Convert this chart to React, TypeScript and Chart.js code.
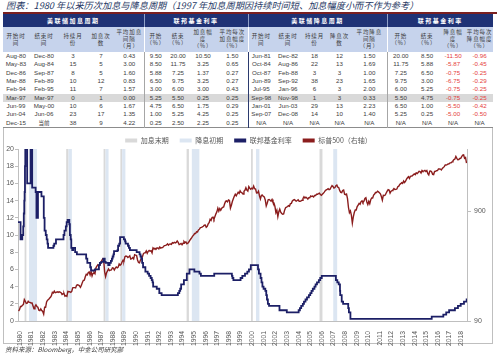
import React, { useEffect, useRef } from 'react';
import { Chart, registerables } from 'chart.js';
Chart.register(...registerables);

// ---------------- text ----------------
const TITLE = '图表：1980 年以来历次加息与降息周期（1997 年加息周期因持续时间短、加息幅度小而不作为参考）';
const SOURCE = '资料来源：Bloomberg，中金公司研究部';

// ---------------- table ----------------
const groupHeaders = ['美联储加息周期', '联邦基金利率', '美联储降息周期', '联邦基金利率'];
const groupSpans = [5, 4, 5, 4];
const subHeaders = [
  ['开始时', '间'], ['结束时', '间'], ['持续月', '份'], ['加息次', '数'], ['平均加息', '间隔', '（月）'],
  ['开始', '（%）'], ['结束', '（%）'], ['加息幅', '度', '（%）'], ['平均每次', '加息幅度', '（%）'],
  ['开始时', '间'], ['结束时', '间'], ['持续月', '份'], ['降息次', '数'], ['平均降息', '间隔', '（月）'],
  ['开始', '（%）'], ['结束', '（%）'], ['降息幅', '度', '（%）'], ['平均每次', '降息幅度', '（%）'],
];

const hikeStart = ['Aug-80', 'May-83', 'Dec-86', 'Mar-88', 'Feb-94', 'Mar-97', 'Jun-99', 'Jun-04', 'Dec-15'];
const hikeEnd = ['Dec-80', 'Aug-84', 'Sep-87', 'Feb-89', 'Feb-95', 'Mar-97', 'May-00', 'Jun-06', '当前'];
const hikeMonths = ['3', '15', '8', '10', '11', '0', '10', '23', '38'];
const hikeCount = ['7', '5', '5', '12', '7', '1', '6', '17', '9'];
const hikeInterval = ['0.43', '3.00', '1.60', '0.83', '1.57', '0.00', '1.67', '1.35', '4.22'];
const hikeRateStart = ['9.50', '8.50', '5.88', '6.50', '3.00', '5.25', '4.75', '1.00', '0.25'];
const hikeRateEnd = ['20.00', '11.75', '7.25', '9.75', '6.00', '5.50', '6.50', '5.25', '2.50'];
const hikeRange = ['10.50', '3.25', '1.37', '3.25', '3.00', '0.25', '1.75', '4.25', '2.25'];
const hikeAvg = ['1.50', '0.65', '0.27', '0.27', '0.43', '0.25', '0.29', '0.25', '0.25'];

const cutStart = ['Jun-81', 'Oct-84', 'Oct-87', 'Jun-89', 'Jul-95', 'Sep-98', 'Jan-01', 'Sep-07', 'N/A'];
const cutEnd = ['Dec-82', 'Aug-86', 'Feb-88', 'Sep-92', 'Jan-96', 'Nov-98', 'Jun-03', 'Dec-08', 'N/A'];
const cutMonths = ['18', '22', '3', '38', '6', '1', '29', '14', 'N/A'];
const cutCount = ['12', '13', '3', '23', '3', '3', '13', '10', 'N/A'];
const cutInterval = ['1.50', '1.69', '1.00', '1.65', '2.00', '0.33', '2.23', '1.40', 'N/A'];
const cutRateStart = ['20.00', '11.75', '7.25', '9.75', '6.00', '5.50', '6.50', '5.25', 'N/A'];
const cutRateEnd = ['8.50', '5.88', '6.50', '3.00', '5.25', '4.75', '1.00', '0.25', 'N/A'];
const cutRange = ['-11.50', '-5.87', '-0.75', '-6.75', '-0.75', '-0.75', '-5.50', '-5.00', 'N/A'];
const cutAvg = ['-0.96', '-0.45', '-0.25', '-0.29', '-0.25', '-0.25', '-0.42', '-0.50', 'N/A'];

const tableColumns = [
  hikeStart, hikeEnd, hikeMonths, hikeCount, hikeInterval,
  hikeRateStart, hikeRateEnd, hikeRange, hikeAvg,
  cutStart, cutEnd, cutMonths, cutCount, cutInterval,
  cutRateStart, cutRateEnd, cutRange, cutAvg,
];
const highlightRow = 5;

// ---------------- chart data ----------------
// Fed funds target rate: change dates (decimal years) and level after change (%)
const fedChangeAt = [
  1980.33, 1980.55, 1980.70, 1980.78, 1980.83, 1980.87, 1980.90, 1980.93, 1980.96,
  1981.12, 1981.42, 1981.55, 1981.85, 1981.92, 1982.05, 1982.35, 1982.55, 1982.62, 1982.72, 1982.80, 1982.87, 1982.92,
  1983.38, 1983.45, 1983.60, 1984.25, 1984.33, 1984.45, 1984.52, 1984.60,
  1984.75, 1984.80, 1984.87, 1984.92, 1985.00, 1985.08, 1985.25, 1985.40, 1986.20, 1986.30, 1986.55, 1986.62,
  1986.95, 1987.30, 1987.38, 1987.50, 1987.68,
  1987.80, 1987.88, 1988.10,
  1988.22, 1988.33, 1988.42, 1988.48, 1988.55, 1988.60, 1988.90, 1988.95, 1989.05, 1989.12,
  1989.45, 1989.55, 1989.60, 1989.80, 1989.88, 1989.97, 1990.55, 1990.80, 1990.88, 1990.95,
  1991.02, 1991.10, 1991.30, 1991.50, 1991.62, 1991.75, 1991.85, 1991.92, 1991.97, 1992.28, 1992.50, 1992.70,
  1994.10, 1994.22, 1994.30, 1994.38, 1994.62, 1994.87, 1995.10,
  1995.52, 1995.96, 1996.08, 1997.23,
  1998.75, 1998.80, 1998.88,
  1999.50, 1999.65, 1999.88, 2000.08, 2000.22, 2000.38,
  2001.00, 2001.08, 2001.22, 2001.30, 2001.38, 2001.48, 2001.63, 2001.71, 2001.77, 2001.85, 2001.95, 2002.85, 2003.48,
  2004.50, 2004.61, 2004.72, 2004.86, 2004.96, 2005.09, 2005.22, 2005.38, 2005.50, 2005.61, 2005.72, 2005.86, 2005.96,
  2006.08, 2006.24, 2006.36, 2006.49,
  2007.71, 2007.83, 2007.95, 2008.06, 2008.08, 2008.21, 2008.33, 2008.77, 2008.83, 2008.96,
  2015.96, 2016.96, 2017.21, 2017.46, 2017.96, 2018.22, 2018.46, 2018.74, 2018.97, 2019.0,
];
const fedRate = [
  11.5, 9.5, 10, 11, 12.5, 14, 15, 18, 20,
  16, 20, 15.5, 15, 12, 15, 14.5, 12, 10.5, 10, 9.5, 9, 8.5,
  8.75, 9, 9.5, 10, 10.5, 11, 11.5, 11.75,
  11.25, 10, 9.5, 8.5, 8.25, 8.5, 8, 7.75, 7.25, 6.75, 6.25, 5.875,
  6, 6.5, 6.75, 6.875, 7.25,
  6.875, 6.75, 6.5,
  6.75, 7, 7.25, 7.5, 7.75, 8.125, 8.25, 8.75, 9, 9.75,
  9.5, 9.25, 9, 8.75, 8.5, 8.25, 8, 7.75, 7.5, 7.25,
  6.75, 6.25, 5.75, 5.5, 5.25, 5, 4.75, 4.5, 4, 3.75, 3.25, 3,
  3.25, 3.5, 3.75, 4.25, 4.75, 5.5, 6,
  5.75, 5.5, 5.25, 5.5,
  5.25, 5, 4.75,
  5, 5.25, 5.5, 5.75, 6, 6.5,
  6, 5.5, 5, 4.5, 4, 3.75, 3.5, 3, 2.5, 2, 1.75, 1.25, 1,
  1.25, 1.5, 1.75, 2, 2.25, 2.5, 2.75, 3, 3.25, 3.5, 3.75, 4, 4.25,
  4.5, 4.75, 5, 5.25,
  4.75, 4.5, 4.25, 3.5, 3, 2.25, 2, 1.5, 1, 0.25,
  0.5, 0.75, 1, 1.25, 1.5, 1.75, 2, 2.25, 2.5, 2.5,
];

// S&P 500 monthly level, May 1980 .. Dec 2018
const SPX_START = 1980 + 4 / 12;
const spxMonthly = [
  111, 114, 122, 122, 125, 127, 141, 136,
  130, 131, 136, 133, 133, 131, 131, 123, 116, 122, 126, 122,
  120, 113, 112, 116, 112, 110, 104, 120, 120, 134, 139, 141,
  145, 148, 153, 164, 162, 168, 163, 164, 166, 164, 166, 165,
  163, 157, 159, 160, 151, 153, 151, 167, 166, 166, 164, 167,
  180, 181, 181, 180, 190, 192, 191, 188, 182, 190, 202, 211,
  212, 227, 239, 236, 247, 251, 236, 253, 231, 244, 249, 242,
  274, 284, 292, 288, 290, 304, 319, 330, 322, 252, 228, 247,
  257, 268, 259, 261, 262, 274, 272, 262, 272, 279, 274, 278,
  297, 289, 295, 310, 321, 318, 346, 351, 349, 340, 346, 353,
  329, 332, 340, 331, 361, 358, 356, 323, 306, 304, 322, 330,
  344, 367, 375, 375, 390, 371, 387, 395, 388, 392, 375, 417,
  409, 413, 404, 415, 415, 408, 424, 414, 418, 419, 431, 436,
  439, 443, 452, 440, 450, 451, 448, 464, 459, 468, 462, 466,
  481, 467, 446, 451, 457, 444, 458, 475, 463, 472, 454, 459,
  470, 487, 501, 515, 533, 545, 562, 562, 584, 582, 605, 616,
  636, 640, 646, 654, 669, 671, 640, 652, 687, 705, 757, 741,
  786, 791, 757, 801, 848, 885, 954, 899, 947, 915, 955, 970,
  980, 1049, 1102, 1112, 1091, 1134, 1121, 957, 1017, 1099, 1164, 1229,
  1280, 1238, 1286, 1335, 1302, 1373, 1329, 1320, 1283, 1363, 1389, 1469,
  1394, 1366, 1499, 1452, 1421, 1455, 1431, 1518, 1437, 1429, 1315, 1320,
  1366, 1240, 1160, 1249, 1256, 1224, 1211, 1134, 1000, 1060, 1139, 1148,
  1130, 1107, 1147, 1077, 1067, 990, 870, 916, 800, 886, 936, 880,
  856, 841, 848, 917, 964, 975, 990, 1008, 996, 1051, 1058, 1112,
  1131, 1145, 1126, 1107, 1121, 1141, 1102, 1104, 1115, 1130, 1174, 1212,
  1181, 1204, 1181, 1157, 1192, 1191, 1234, 1220, 1229, 1207, 1249, 1248,
  1280, 1281, 1295, 1311, 1270, 1250, 1277, 1304, 1336, 1378, 1401, 1418,
  1438, 1407, 1421, 1482, 1531, 1503, 1455, 1474, 1527, 1549, 1481, 1468,
  1379, 1331, 1323, 1386, 1400, 1280, 1267, 1283, 1165, 969, 870, 903,
  826, 700, 798, 873, 919, 919, 987, 1021, 1057, 1036, 1096, 1115,
  1074, 1104, 1169, 1187, 1089, 1031, 1102, 1049, 1141, 1183, 1181, 1258,
  1286, 1327, 1326, 1364, 1345, 1321, 1292, 1219, 1131, 1253, 1247, 1258,
  1312, 1366, 1408, 1398, 1310, 1362, 1379, 1407, 1441, 1412, 1416, 1426,
  1498, 1515, 1569, 1598, 1631, 1606, 1686, 1633, 1682, 1757, 1806, 1848,
  1783, 1859, 1872, 1884, 1924, 1960, 1931, 2003, 1972, 2018, 2068, 2059,
  1995, 2105, 2068, 2086, 2107, 2063, 2104, 1972, 1920, 2079, 2080, 2044,
  1940, 1932, 2060, 2065, 2097, 2099, 2174, 2171, 2168, 2126, 2199, 2239,
  2279, 2364, 2363, 2384, 2412, 2423, 2470, 2472, 2519, 2575, 2648, 2674,
  2824, 2714, 2641, 2648, 2705, 2718, 2816, 2902, 2914, 2712, 2760, 2460,
];

// shaded periods (decimal years)
const lateHikeBands = [
  [1980.90, 1981.05], [1984.48, 1984.68], [1987.70, 1987.87], [1989.15, 1989.30],
  [1994.85, 1995.05], [2000.40, 2000.55], [2006.30, 2006.55],
];
const earlyCutBands = [
  [1981.28, 1981.97], [1984.68, 1984.97], [1987.87, 1988.13], [1989.30, 1989.58],
  [1995.30, 1995.95], [2000.83, 2001.12], [2007.48, 2007.82],
];

const yearTicks = [
  1980, 1981, 1982, 1983, 1984, 1985, 1986, 1987, 1988, 1989, 1990, 1991, 1992,
  1993, 1994, 1995, 1996, 1997, 1998, 1999, 2000, 2001, 2002, 2003, 2004, 2005,
  2006, 2007, 2008, 2009, 2010, 2011, 2012, 2013, 2014, 2015, 2016, 2017, 2018,
];
const rightTicks = [90, 900];
const legendLabels = ['加息末期', '降息初期', '联邦基金利率', '标普500（右轴）'];

// ---------------- styles ----------------
const NAVY = '#1F3275';
const FED_COLOR = '#1C1F66';
const SPX_COLOR = '#8B1D1D';
const GRAY_BAND = '#D9D9D9';
const BLUE_BAND = '#DCE6F2';
const legendColors = [GRAY_BAND, BLUE_BAND, FED_COLOR, SPX_COLOR];
const colWidths = [26, 30, 28, 28, 29, 23, 22, 28, 31, 26, 28, 25, 25, 35, 27, 26, 26, 27];
const groupStartCols = [5, 9, 14];
const CJK = '"Noto Sans CJK SC", sans-serif';
const NUM = '"Liberation Sans Narrow", "Liberation Sans", Arial, sans-serif';

const CANVAS_LEFT = 4;
const CANVAS_TOP = 126;
const CANVAS_W = 489;
const CANVAS_H = 228;
const LEGEND_H = 23;
const X_AXIS_H = 33;
const Y_AXIS_W = 14;
const Y2_AXIS_W = 26;

const bandsPlugin = {
  id: 'bands',
  beforeDatasetsDraw(chart: any) {
    const { ctx, chartArea, scales } = chart;
    const x = scales.x;
    ctx.save();
    const draw = (bands: number[][], color: string) => {
      ctx.fillStyle = color;
      bands.forEach(([a, b]) => {
        const x1 = x.getPixelForValue(a);
        const x2 = x.getPixelForValue(b);
        ctx.fillRect(x1, chartArea.top, x2 - x1, chartArea.bottom - chartArea.top);
      });
    };
    draw(lateHikeBands, GRAY_BAND);
    draw(earlyCutBands, BLUE_BAND);
    ctx.restore();
  },
};

const legendHeightPlugin = {
  id: 'legendHeight',
  beforeLayout(chart: any) {
    const lg = chart.legend;
    if (lg && !lg.__patched) {
      const orig = lg.fit.bind(lg);
      lg.fit = () => {
        orig();
        lg.height = LEGEND_H;
      };
      lg.__patched = true;
    }
  },
};

export default function App() {
  const ref = useRef<HTMLCanvasElement>(null);

  useEffect(() => {
    if (!ref.current) return;
    const fedData = fedChangeAt.map((x, i) => ({ x, y: fedRate[i] }));
    const spxData = spxMonthly.map((v, i) => ({ x: SPX_START + (i + 0.5) / 12, y: v }));
    const tickFont = { family: '"Liberation Sans", Arial, sans-serif', size: 7 };
    const chart = new Chart(ref.current, {
      type: 'line',
      data: {
        datasets: [
          {
            label: '联邦基金利率',
            data: fedData,
            yAxisID: 'y',
            borderColor: FED_COLOR,
            backgroundColor: FED_COLOR,
            borderWidth: 1.8,
            stepped: true,
            pointRadius: 0,
            fill: false,
          },
          {
            label: '标普500（右轴）',
            data: spxData,
            yAxisID: 'y2',
            borderColor: SPX_COLOR,
            backgroundColor: SPX_COLOR,
            borderWidth: 1.4,
            pointRadius: 0,
            tension: 0,
            fill: false,
          },
        ],
      },
      options: {
        responsive: false,
        animation: false,
        layout: { padding: 0 },
        plugins: {
          tooltip: { enabled: false },
          legend: {
            position: 'top',
            align: 'center',
            onClick: () => {},
            labels: {
              boxWidth: 12,
              boxHeight: 4,
              padding: 11,
              color: '#595959',
              font: { family: CJK, size: 7 },
              generateLabels: () =>
                legendLabels.map((text, i) => ({
                  text,
                  fillStyle: legendColors[i],
                  strokeStyle: legendColors[i],
                  lineWidth: 0,
                  hidden: false,
                  fontColor: '#595959',
                  datasetIndex: i,
                })),
            },
          },
        },
        scales: {
          x: {
            type: 'linear',
            min: 1980.33,
            max: 2019.0,
            afterBuildTicks: (s: any) => {
              s.ticks = yearTicks.map((y) => ({ value: y + 0.5 }));
            },
            afterFit: (s: any) => {
              s.height = X_AXIS_H;
            },
            grid: { display: false },
            border: { display: true, color: '#BFBFBF' },
            ticks: {
              autoSkip: false,
              maxRotation: 90,
              minRotation: 90,
              padding: 2,
              color: '#595959',
              font: { family: '"Liberation Sans", Arial, sans-serif', size: 6.8 },
              callback: (v: any) => String(Math.floor(Number(v) + 1e-6)),
            },
          },
          y: {
            position: 'left',
            min: 0,
            max: 20,
            afterFit: (s: any) => {
              s.width = Y_AXIS_W;
            },
            grid: { drawOnChartArea: false, tickLength: 3, color: '#BFBFBF' },
            border: { display: true, color: '#BFBFBF' },
            ticks: { stepSize: 2, padding: 1, color: '#595959', font: tickFont },
          },
          y2: {
            type: 'logarithmic',
            position: 'right',
            min: 90,
            max: 3300,
            afterBuildTicks: (s: any) => {
              s.ticks = rightTicks.map((v) => ({ value: v }));
            },
            afterFit: (s: any) => {
              s.width = Y2_AXIS_W;
            },
            grid: { drawOnChartArea: false, tickLength: 4, color: '#BFBFBF' },
            border: { display: true, color: '#BFBFBF' },
            ticks: {
              padding: 3,
              color: '#595959',
              font: tickFont,
              callback: (v: any) => String(v),
            },
          },
        },
      } as any,
      plugins: [bandsPlugin, legendHeightPlugin],
    });
    return () => chart.destroy();
  }, []);

  const sepFor = (ci: number, dark: string, light: string) =>
    groupStartCols.includes(ci) ? `1px solid ${ci === 9 ? dark : light}` : 'none';

  return (
    <div
      style={{
        position: 'absolute',
        left: 0,
        top: 0,
        width: 500,
        height: 356,
        background: '#fff',
        overflow: 'hidden',
      }}
    >
      <div
        style={{
          position: 'absolute',
          left: 6,
          top: 0,
          fontFamily: CJK,
          fontSize: 9.2,
          lineHeight: '11px',
          fontStyle: 'italic',
          color: '#1F3864',
          whiteSpace: 'nowrap',
        }}
      >
        {TITLE}
      </div>
      <div style={{ position: 'absolute', left: 3, top: 12, width: 494, height: 1.5, background: '#7B2020' }} />

      <div
        style={{
          position: 'absolute',
          left: 3,
          top: 14,
          width: 490,
          height: 330,
          border: '1px solid #BFBFBF',
          boxSizing: 'border-box',
        }}
      />

      <table
        style={{
          position: 'absolute',
          left: 3,
          top: 14,
          width: 490,
          borderCollapse: 'collapse',
          tableLayout: 'fixed',
          borderBottom: '1px solid #8C8C8C',
        }}
      >
        <colgroup>
          {colWidths.map((w, i) => (
            <col key={i} style={{ width: w }} />
          ))}
        </colgroup>
        <tbody>
          <tr style={{ height: 13 }}>
            {groupHeaders.map((g, gi) => (
              <td
                key={gi}
                colSpan={groupSpans[gi]}
                style={{
                  padding: 0,
                  background: NAVY,
                  color: '#fff',
                  fontFamily: CJK,
                  fontSize: 6,
                  fontWeight: 700,
                  letterSpacing: 1.5,
                  textAlign: 'center',
                  borderLeft: gi > 0 ? '1px solid #8FA0C8' : 'none',
                  whiteSpace: 'nowrap',
                }}
              >
                {g}
              </td>
            ))}
          </tr>
          <tr style={{ height: 25 }}>
            {subHeaders.map((lines, ci) => (
              <td
                key={ci}
                style={{
                  padding: 0,
                  background: '#C6D3EC',
                  color: '#3A3A3A',
                  fontFamily: CJK,
                  fontSize: 5.5,
                  lineHeight: '6.8px',
                  letterSpacing: 0.9,
                  textAlign: 'center',
                  verticalAlign: 'middle',
                  whiteSpace: 'nowrap',
                  overflow: 'hidden',
                  borderLeft: sepFor(ci, '#FFFFFF', '#FFFFFF'),
                }}
              >
                {lines.map((l, li) => (
                  <div key={li}>{l}</div>
                ))}
              </td>
            ))}
          </tr>
          {hikeStart.map((_, r) => (
            <tr key={r} style={{ height: 8.33, background: r === highlightRow ? '#D9D9D9' : '#fff' }}>
              {tableColumns.map((col, ci) => {
                const v = col[r];
                const isCJK = /[\u4e00-\u9fff]/.test(v);
                return (
                  <td
                    key={ci}
                    style={{
                      padding: 0,
                      fontFamily: isCJK ? CJK : NUM,
                      fontSize: isCJK ? 5.5 : 6.2,
                      lineHeight: '8px',
                      color: v.startsWith('-') ? '#E5403C' : '#404040',
                      textAlign: 'center',
                      whiteSpace: 'nowrap',
                      overflow: 'hidden',
                      borderLeft: sepFor(ci, '#2B3A6E', '#A6A6A6'),
                    }}
                  >
                    {v}
                  </td>
                );
              })}
            </tr>
          ))}
        </tbody>
      </table>

      <div style={{ position: 'absolute', left: CANVAS_LEFT, top: CANVAS_TOP, width: CANVAS_W, height: CANVAS_H }}>
        <canvas ref={ref} width={CANVAS_W} height={CANVAS_H} style={{ display: 'block' }} />
      </div>

      <div
        style={{
          position: 'absolute',
          left: 5,
          top: 344,
          fontFamily: CJK,
          fontSize: 6.5,
          lineHeight: '10px',
          fontStyle: 'italic',
          color: '#404040',
          whiteSpace: 'nowrap',
          background: 'transparent',
        }}
      >
        {SOURCE}
      </div>
    </div>
  );
}
